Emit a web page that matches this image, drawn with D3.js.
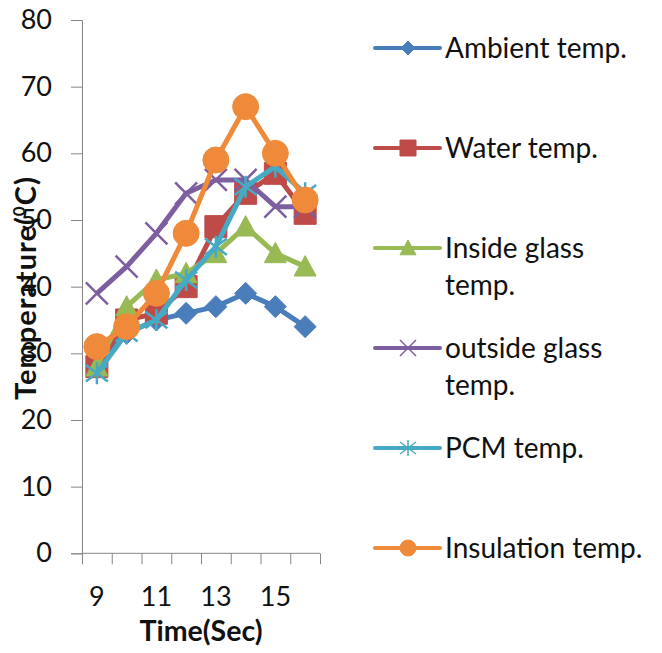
<!DOCTYPE html>
<html>
<head>
<meta charset="utf-8">
<script src="https://cdn.jsdelivr.net/npm/d3@7"></script>
<style>
  body { margin: 0; background: #fff; }
  svg { display: block; font-family: Lato, 'Open Sans', sans-serif; }
  .axis path, .axis line { stroke: #868686; }
  .axis text { font-size: 27px; fill: #111; font-family: Lato, sans-serif; }
</style>
</head>
<body>
<div id="chart"></div>
<script>
// values
const categories = [9, 10, 11, 12, 13, 14, 15, 16]
const xTickLabels = [9, 11, 13, 15]
const yTicks = [0, 10, 20, 30, 40, 50, 60, 70, 80]

const ambient = [29, 33, 35, 36, 37, 39, 37, 34]
const water = [28, 35, 36, 40, 49, 54, 57, 51]
const insideGlass = [28, 37, 41, 42, 45, 49, 45, 43]
const outsideGlass = [39, 43, 48, 54, 56, 56, 52, 52]
const pcm = [27, 33, 35, 41, 46, 55, 58, 54]
const insulation = [31, 34, 39, 48, 59, 67, 60, 53]

const seriesNames = ['Ambient temp.', 'Water temp.', 'Inside glass\ntemp.', 'outside glass\ntemp.', 'PCM temp.', 'Insulation temp.']

const WIDTH = 662
const HEIGHT = 653
const PLOT = { left: 82, right: 320, top: 20, bottom: 553.3 }

// marker shapes, r = half size
const markers = {
  diamond: r => `M0,${-r}L${r},0L0,${r}L${-r},0Z`,
  square: r => `M${-r},${-r}H${r}V${r}H${-r}Z`,
  triangle: r => `M0,${-r}L${r},${r * 0.85}L${-r},${r * 0.85}Z`,
  cross: r => `M${-r},${-r}L${r},${r}M${-r},${r}L${r},${-r}`,
  star: r => `M${-r},${-r * 0.75}L${r},${r * 0.75}M${-r},${r * 0.75}L${r},${-r * 0.75}M0,${-r}V${r}`,
  circle: r => `M${-r},0A${r},${r} 0 1,0 ${r},0A${r},${r} 0 1,0 ${-r},0Z`
}

const series = [
  { name: seriesNames[0], values: ambient, color: '#4a7ebb', marker: 'diamond', r: 11, lr: 7, filled: true },
  { name: seriesNames[1], values: water, color: '#be4b48', marker: 'square', r: 11, lr: 8, filled: true },
  { name: seriesNames[2], values: insideGlass, color: '#98b954', marker: 'triangle', r: 11, lr: 8, filled: true },
  { name: seriesNames[3], values: outsideGlass, color: '#7d5fa0', marker: 'cross', r: 11, lr: 8, filled: false },
  { name: seriesNames[4], values: pcm, color: '#46aac4', marker: 'star', r: 11, lr: 8, filled: false },
  { name: seriesNames[5], values: insulation, color: '#ef8a3a', marker: 'circle', r: 13, lr: 8, filled: true }
]

const svg = d3.select('#chart').append('svg')
  .attr('width', WIDTH)
  .attr('height', HEIGHT)

const x = d3.scaleBand()
  .domain(categories)
  .range([PLOT.left, PLOT.right])
  .padding(0)

const y = d3.scaleLinear()
  .domain([0, 80])
  .range([PLOT.bottom, PLOT.top])

const xEdge = d3.scaleLinear()
  .domain([0, categories.length])
  .range(x.range())

// y axis
svg.append('g')
  .classed('axis', true)
  .attr('transform', `translate(${PLOT.left},0)`)
  .call(d3.axisLeft(y).tickValues(yTicks).tickSize(11).tickPadding(19))

// x axis: tick marks on band edges
svg.append('g')
  .classed('axis', true)
  .attr('transform', `translate(0,${PLOT.bottom})`)
  .call(d3.axisBottom(xEdge).tickValues(d3.range(categories.length + 1)).tickSize(11).tickFormat(''))
  .call(g => g.select('.domain').attr('d', `M${PLOT.left},0H${PLOT.right}`))

// x axis: labels on band centres
svg.append('g')
  .classed('axis', true)
  .attr('transform', `translate(0,${PLOT.bottom})`)
  .call(d3.axisBottom(x).tickValues(xTickLabels).tickSize(0).tickPadding(34))
  .call(g => g.select('.domain').remove())

// axis titles
svg.append('text')
  .attr('x', (PLOT.left + PLOT.right) / 2)
  .attr('y', 641)
  .attr('text-anchor', 'middle')
  .style('font-size', '28.5px')
  .style('font-weight', 'bold')
  .style('fill', '#111')
  .text('Time(Sec)')

const yTitle = svg.append('text')
  .attr('transform', 'translate(36,288) rotate(-90)')
  .attr('text-anchor', 'middle')
  .style('font-size', '29px')
  .style('letter-spacing', '1px')
  .style('font-weight', 'bold')
  .style('fill', '#111')
yTitle.append('tspan').text('Temperature(')
yTitle.append('tspan').attr('dy', -11).style('font-size', '17px').text('0')
yTitle.append('tspan').attr('dy', 11).text('C)')

const cx = (d, i) => x(categories[i]) + x.bandwidth() / 2

const line = d3.line()
  .x((d, i) => cx(d, i))
  .y(d => y(d))

const drawMarker = (sel, s, r) => {
  sel.attr('d', markers[s.marker](r))
    .attr('fill', s.filled ? s.color : 'none')
    .attr('stroke', s.color)
    .attr('stroke-width', s.filled ? 1 : 2.5)
}

// series: line then markers, in order
series.forEach(s => {
  const g = svg.append('g')
  g.append('path')
    .datum(s.values)
    .attr('d', line)
    .attr('fill', 'none')
    .attr('stroke', s.color)
    .attr('stroke-width', 5)
    .attr('stroke-linejoin', 'round')

  g.selectAll('path.mk')
    .data(s.values)
    .join('path')
    .classed('mk', true)
    .attr('transform', (d, i) => `translate(${cx(d, i)},${y(d)})`)
    .call(drawMarker, s, s.r)
})

// legend
const legend = svg.append('g')
  .attr('transform', 'translate(375,48)')

series.forEach((s, i) => {
  const row = legend.append('g')
    .attr('transform', `translate(0,${i * 100})`)
  row.append('line')
    .attr('x1', 0).attr('x2', 65)
    .attr('stroke', s.color)
    .attr('stroke-width', 4)
    .attr('stroke-linecap', 'round')
  row.append('path')
    .attr('transform', 'translate(33,0)')
    .call(drawMarker, s, s.lr)
    .attr('stroke-width', s.filled ? 1 : 1.5)
  const t = row.append('text')
    .attr('x', 70)
    .attr('y', 10)
    .style('font-size', '28px')
    .style('fill', '#111')
  s.name.split('\n').forEach((part, k) => {
    t.append('tspan')
      .attr('x', 70)
      .attr('dy', k === 0 ? 0 : 37)
      .text(part)
  })
})
</script>
</body>
</html>
